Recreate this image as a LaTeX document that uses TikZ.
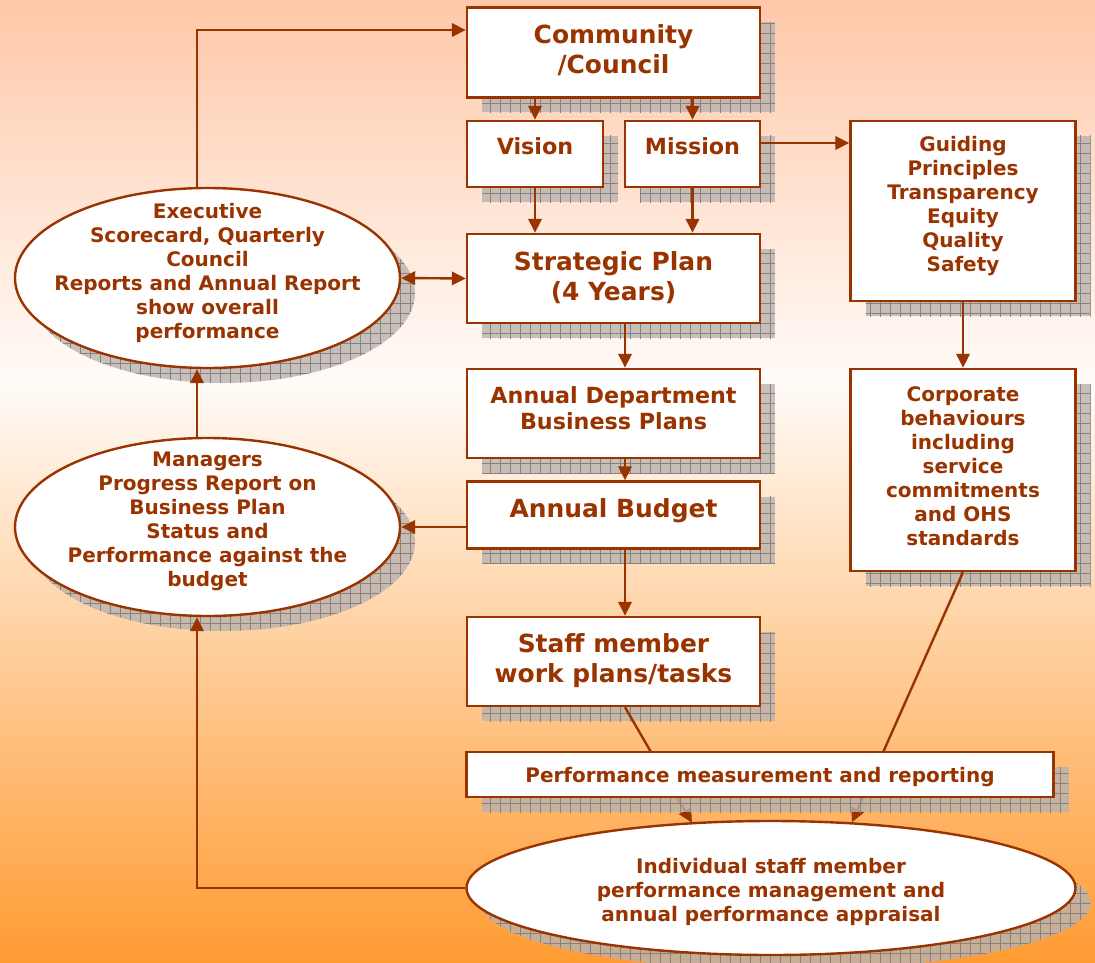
\documentclass[tikz,border=0pt]{standalone}
\usepackage{fontspec}
\setmainfont{DejaVu Sans}
\usetikzlibrary{shapes.geometric,arrows.meta,shadows,patterns.meta,calc}
\definecolor{main}{RGB}{153,51,0}
\definecolor{shadowgray}{RGB}{185,178,174}
\definecolor{gridgray}{RGB}{135,130,128}
\definecolor{bgtop}{RGB}{255,200,168}
\definecolor{bgmid}{RGB}{255,251,248}
\definecolor{bgbot}{RGB}{255,155,50}
\begin{document}
\begin{tikzpicture}[x=0.75pt,y=-0.75pt,
  shad/.style={general shadow={shadow xshift=11.25pt,shadow yshift=-11.25pt,fill=shadowgray,fill opacity=0.8},
               general shadow={shadow xshift=11.25pt,shadow yshift=-11.25pt,pattern={Hatch[angle=0,distance=7.5pt,line width=0.4pt]},pattern color=gridgray}},
  wh/.style 2 args={minimum width=#1*0.75pt,minimum height=#2*0.75pt},
  box/.style={shad,draw=main,line width=1.8pt,fill=white,rectangle,inner sep=0pt},
  oval/.style={shad,draw=main,line width=1.8pt,fill=white,ellipse,inner sep=0pt},
  big/.style={text=main,font=\bfseries\fontsize{18.7}{22.5}\selectfont,align=center,inner sep=0pt},
  med/.style={text=main,font=\bfseries\fontsize{16.7}{19.5}\selectfont,align=center,inner sep=0pt},
  sml/.style={text=main,font=\bfseries\fontsize{15}{18}\selectfont,align=center,inner sep=0pt},
  ln/.style={draw=main,line width=1.8pt},
  arr/.style={ln,-{Triangle[length=10.5pt,width=10pt]}},
]
\useasboundingbox (0,0) rectangle (1095,963);
\shade[top color=bgtop,bottom color=bgmid] (0,0) rectangle (1095,380);
\shade[top color=bgmid,bottom color=bgbot] (0,380) rectangle (1095,963);

% boxes
\node[box,wh={293}{90}] (comm) at (613.5,52.5) {};
\node[box,wh={136}{66}] (vision) at (535,154) {};
\node[box,wh={135}{66}] (mission) at (692.5,154) {};
\node[box,wh={293}{89}] (strat) at (613.5,278.5) {};
\node[box,wh={293}{89}] (adept) at (613.5,413.5) {};
\node[box,wh={293}{67}] (budget) at (613.5,515) {};
\node[box,wh={293}{89}] (staff) at (613.5,661.5) {};
\node[box,wh={225}{180}] (guide) at (963,211) {};
\node[box,wh={225}{202}] (corp) at (963,470) {};
\node[oval,wh={385}{180}] (exec) at (207.5,278) {};
\node[oval,wh={385}{178}] (mgr) at (207.5,527) {};
\node[oval,wh={609}{134}] (indiv) at (771,888) {};

% texts
\node[big] (tcomm) at (613.5,50) {Community\\/Council};
\node[med] (tvis) at (535,146) {Vision};
\node[med] (tmis) at (692.5,146) {Mission};
\node[big] (tstrat) at (613.5,278) {Strategic Plan\\(4 Years)};
\node[med] (tadept) at (613.5,408) {Annual Department\\Business Plans};
\node[big] (tbud) at (613.5,511) {Annual Budget};
\node[big] (tstaff) at (613.5,661) {Staff member\\work plans/tasks};
\node[sml] (tguide) at (963,206) {Guiding\\Principles\\Transparency\\Equity\\Quality\\Safety};
\node[sml] (tcorp) at (963,466) {Corporate\\behaviours\\including\\service\\commitments\\and OHS\\standards};
\node[sml] (texec) at (207.5,273) {Executive\\Scorecard, Quarterly\\Council\\Reports and Annual Report\\show overall\\performance};
\node[sml] (tmgr) at (207.5,521.5) {Managers\\Progress Report on\\Business Plan\\Status and\\Performance against the\\budget};
\node[sml] (tind) at (771,892) {Individual staff member\\performance management and\\annual performance appraisal};

% connectors
\draw[arr] ($(exec.north)+(-10.5,0)$) |- ($(comm.west)+(0,-22.5)$);
\draw[arr] (vision.north |- comm.south) -- (vision.north);
\draw[arr] (mission.north |- comm.south) -- (mission.north);
\draw[arr] ($(mission.east)+(0,-11)$) -- ($(guide.west)+(0,-68)$);
\draw[arr] (vision.south) -- (vision.south |- strat.north);
\draw[arr] (mission.south) -- (mission.south |- strat.north);
\draw[ln,{Triangle[length=10.5pt,width=10pt]}-{Triangle[length=10.5pt,width=10pt]}] (exec.east) -- (strat.west);
\draw[arr] ($(strat.south)+(11.5,0)$) -- ($(adept.north)+(11.5,0)$);
\draw[arr] ($(adept.south)+(11.5,0)$) -- ($(budget.north)+(11.5,0)$);
\draw[arr] ($(budget.south)+(11.5,0)$) -- ($(staff.north)+(11.5,0)$);
\draw[arr] (budget.west |- mgr.east) -- (mgr.east);
\draw[arr] ($(mgr.north)+(-10.5,0)$) -- ($(exec.south)+(-10.5,0)$);
\draw[arr] (indiv.west) -| ($(mgr.south)+(-10.5,0)$);
\draw[arr] (guide.south) -- (corp.north);
\draw[arr] ($(staff.south)+(11.5,0)$) -- ($(indiv.north)+(-79,3)$);
\draw[arr] (corp.south) -- ($(indiv.north)+(81,2.5)$);

% performance box drawn over the two long connectors
\node[box,wh={587}{45}] (perf) at (760,774.5) {};
\node[sml] (tperf) at (760,777) {Performance measurement and reporting};
\end{tikzpicture}
\end{document}
